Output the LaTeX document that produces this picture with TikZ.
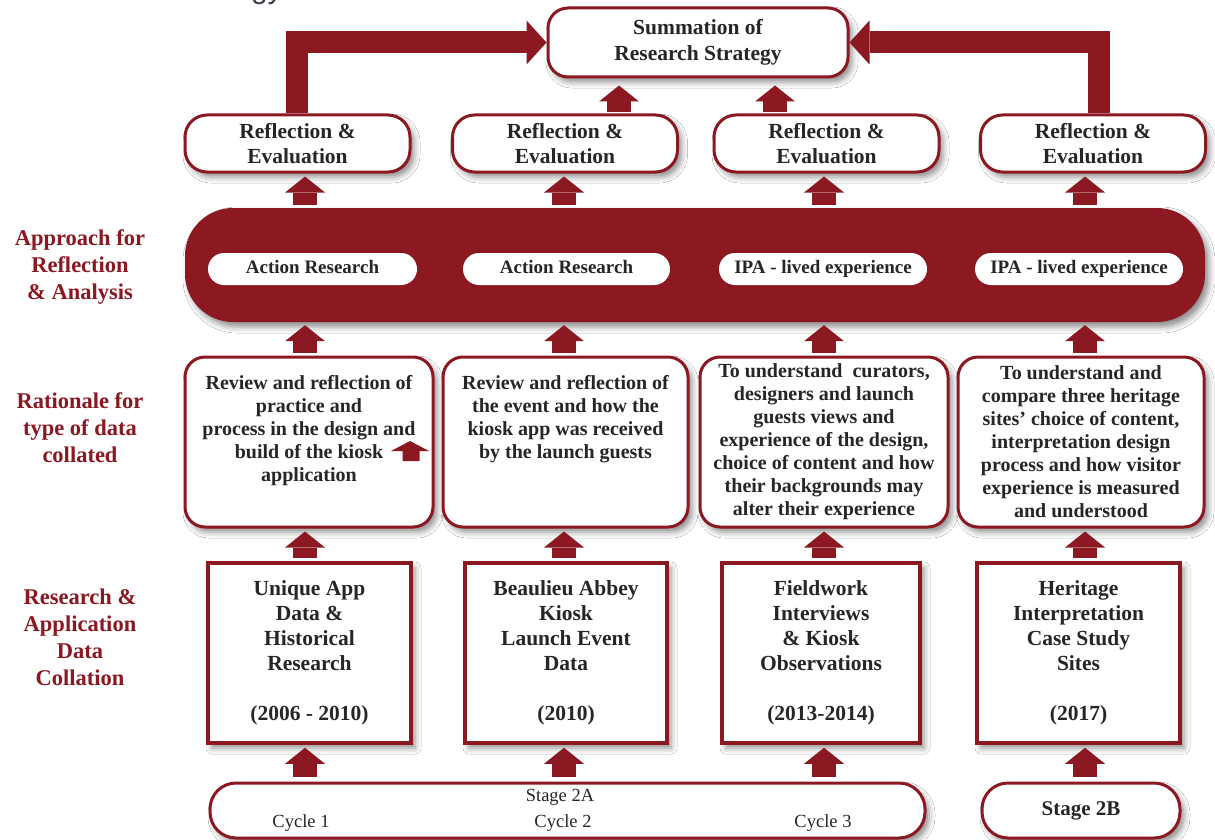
\documentclass[tikz,border=0pt]{standalone}
\usepackage{fontspec}
\setmainfont{Liberation Serif}
\newfontfamily\titlefont{Liberation Sans}
\usetikzlibrary{arrows.meta,shadows,shadows.blur}
\definecolor{dred}{HTML}{8C1822}
\definecolor{ink}{HTML}{262626}
\definecolor{ttl}{HTML}{3A3F4A}
\newcommand\fsz[2]{\fontsize{#1}{#2}\selectfont\bfseries}

\tikzset{
  boxshadow/.style={blur shadow={shadow xshift=4pt, shadow yshift=-5pt,
      shadow blur radius=6pt, shadow opacity=45}},
  rbox/.style={draw=dred, line width=3pt, fill=white, rounded corners=#1,
      boxshadow, inner sep=0pt, text=ink, align=center},
  rbox/.default=20pt,
  sbox/.style={draw=dred, line width=3.5pt, fill=white, boxshadow,
      inner sep=0pt, text=ink, align=center, minimum width=203pt,
      minimum height=180pt, font=\fsz{21.5}{25}},
  pill/.style={fill=white, rounded corners=16pt, minimum height=32pt,
      inner sep=0pt, text height=13pt, text depth=4pt, text=ink, font=\fsz{19}{22}},
  sidelabel/.style={text=dred, align=center, inner sep=0pt, font=\fsz{22.5}{27}},
  cyclabel/.style={text=ink, inner sep=0pt, font=\fontsize{18.5}{22}\selectfont},
  barrow/.style={draw=dred, line width=24pt,
      -{Triangle[width=40pt,length=16pt,line width=0pt]},
      shorten <=3pt, shorten >=3pt},
  bigarrow/.style={draw=dred, line width=22pt, line join=miter,
      -{Triangle[width=44pt,length=20pt,line width=0pt]}},
}

\begin{document}
\begin{tikzpicture}[x=1pt,y=-1pt]
\useasboundingbox (0,0) rectangle (1215,840);
\clip (0,0) rectangle (1215,840);
\fill[white] (0,0) rectangle (1215,840);

% heading, running off the top edge
\node[anchor=base east, inner sep=0pt, text=ttl,
      font=\titlefont\fontsize{30}{36}\selectfont] (title) at (283,-1) {Research Strategy};

% column positions of the connecting arrows
\coordinate (k1) at (305,0);
\coordinate (k2) at (564,0);
\coordinate (k3) at (824,0);
\coordinate (k4) at (1085,0);
\coordinate (e1) at (297,0);
\coordinate (e4) at (1099,0);
\coordinate (u2) at (619,0);
\coordinate (u3) at (775,0);

% summation
\node[rbox=20pt, minimum width=300pt, minimum height=69pt, font=\fsz{21.5}{26}]
  (sum) at (698,42.5) {Summation of\\Research Strategy};

% reflection and evaluation row
\foreach \n/\x in {1/297.5, 2/565, 3/826.5, 4/1093}
  \node[rbox=22pt, minimum width=225pt, minimum height=57pt, font=\fsz{21.5}{25}]
    (ref\n) at (\x,143.5) {Reflection \&\\Evaluation};

% approach band
\node[fill=dred, rounded corners=48pt, minimum width=1020pt, minimum height=114pt,
      inner sep=0pt, boxshadow] (band) at (695,265) {};
\node[pill, minimum width=209pt] (ap1) at (312.5,269) {Action Research};
\node[pill, minimum width=207pt] (ap2) at (566.5,269) {Action Research};
\node[pill, minimum width=208pt] (ap3) at (823,269) {IPA - lived experience};
\node[pill, minimum width=208pt] (ap4) at (1079,269) {IPA - lived experience};

% rationale row
\node[rbox=20pt, minimum width=248pt, minimum height=170pt] (rat1) at (309,442)
  {\parbox[c][134pt][t]{240pt}{\centering\fsz{20}{23}Review and reflection of\\practice and\\process in the design and\\build of the kiosk\\application}};
\node[rbox=20pt, minimum width=245pt, minimum height=170pt] (rat2) at (565.5,442)
  {\parbox[c][134pt][t]{240pt}{\centering\fsz{20}{23}Review and reflection of\\the event and how the\\kiosk app was received\\by the launch guests}};
\node[rbox=20pt, minimum width=248pt, minimum height=170pt, font=\fsz{20}{23}] (rat3) at (824,442)
  {To understand~ curators,\\designers and launch\\guests views and\\experience of the design,\\choice of content and how\\their backgrounds may\\alter their experience};
\node[rbox=20pt, minimum width=246pt, minimum height=170pt, font=\fsz{20}{23}] (rat4) at (1081,442)
  {To understand and\\compare three heritage\\sites’ choice of content,\\interpretation design\\process and how visitor\\experience is measured\\and understood};

% small arrow sitting inside the first rationale box
\fill[dred] (410,441) -- (429,451) -- (419.5,451) -- (419.5,461) -- (402.5,461)
  -- (402.5,451) -- (391,451) -- cycle;

% data collation row
\node[sbox] (dat1) at (309.5,653) {Unique App\\Data \&\\Historical\\Research\\[25pt](2006 - 2010)};
\node[sbox, minimum width=202pt] (dat2) at (566,653) {Beaulieu Abbey\\Kiosk\\Launch Event\\Data\\[25pt](2010)};
\node[sbox, minimum width=198pt] (dat3) at (821,653) {Fieldwork\\Interviews\\\& Kiosk\\Observations\\[25pt](2013-2014)};
\node[sbox] (dat4) at (1078.5,653) {Heritage\\Interpretation\\Case Study\\Sites\\[25pt](2017)};

% stages
\node[rbox=26pt, minimum width=715pt, minimum height=55pt] (st2a) at (567.5,810.5) {};
\node[cyclabel] (st2at) at (560,797) {Stage 2A};
\node[cyclabel] (cy1) at (301,823) {Cycle 1};
\node[cyclabel] (cy2) at (563,823) {Cycle 2};
\node[cyclabel] (cy3) at (823,823) {Cycle 3};
\node[rbox=26pt, minimum width=198pt, minimum height=55pt, font=\fsz{21}{24}] (st2b) at (1081,810.5) {Stage 2B};

% side labels
\node[sidelabel] (lab1) at (80,267) {Approach for\\Reflection\\\& Analysis};
\node[sidelabel] (lab2) at (80,428) {Rationale for\\type of data\\collated};
\node[sidelabel] (lab3) at (80,637) {Research \&\\Application\\Data\\Collation};

% connecting arrows
\foreach \n in {1,2,3,4} {
  \draw[barrow] (band.north -| k\n) -- (ref\n.south -| k\n);
  \draw[barrow] (rat\n.north -| k\n) -- (band.south -| k\n);
  \draw[barrow] (dat\n.north -| k\n) -- (rat\n.south -| k\n);
}
\draw[barrow, shorten <=5pt] (st2a.north -| k1) -- (dat1.south -| k1);
\draw[barrow, shorten <=5pt] (st2a.north -| k2) -- (dat2.south -| k2);
\draw[barrow, shorten <=5pt] (st2a.north -| k3) -- (dat3.south -| k3);
\draw[barrow, shorten <=5pt] (st2b.north -| k4) -- (dat4.south -| k4);
\draw[barrow, shorten <=1pt, shorten >=7pt] (ref2.north -| u2) -- (sum.south -| u2);
\draw[barrow, shorten <=1pt, shorten >=7pt] (ref3.north -| u3) -- (sum.south -| u3);
\draw[bigarrow] (ref1.north -| e1) |- (sum.west);
\draw[bigarrow] (ref4.north -| e4) |- (sum.east);
\end{tikzpicture}
\end{document}
